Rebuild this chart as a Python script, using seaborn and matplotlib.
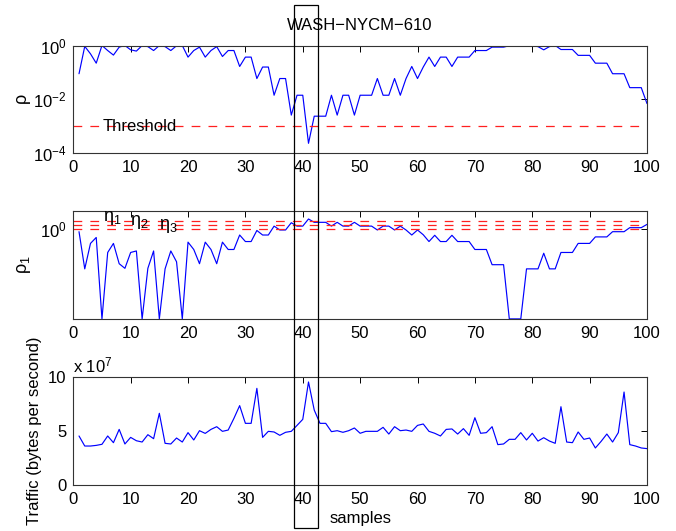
import numpy as np
import pandas as pd
import matplotlib
matplotlib.use("Agg")
import matplotlib.pyplot as plt
import matplotlib.ticker as mticker
import matplotlib.transforms as mtransforms
from matplotlib.patches import Rectangle
import seaborn as sns

# ---------------- data ----------------
samples = list(range(1, 101))

rho = [0.089, 0.93, 0.49, 0.22, 1.0, 0.65, 0.44, 0.87, 1.0, 0.69,
       0.62, 1.0, 0.91, 0.65, 1.0, 0.91, 0.65, 0.98, 1.0, 0.37,
       0.65, 0.87, 0.37, 0.65, 0.91, 0.39, 0.65, 0.65, 0.166, 0.37,
       0.37, 0.059, 0.158, 0.158, 0.0141, 0.059, 0.059, 0.00257, 0.0141, 0.0141,
       0.000229, 0.00234, 0.00234, 0.00234, 0.0141, 0.00257, 0.0141, 0.0141, 0.00257, 0.0141,
       0.0141, 0.0141, 0.059, 0.0141, 0.0141, 0.059, 0.0141, 0.059, 0.166, 0.059,
       0.158, 0.37, 0.166, 0.37, 0.37, 0.166, 0.37, 0.37, 0.37, 0.65,
       0.65, 0.65, 0.87, 0.87, 0.87, 0.98, 1.0, 1.0, 1.0, 0.98,
       0.91, 0.69, 0.91, 1.0, 0.71, 0.71, 0.71, 0.43, 0.43, 0.43,
       0.22, 0.22, 0.22, 0.089, 0.089, 0.089, 0.027, 0.027, 0.027, 0.0069]

rho1 = [0.95, 0.43, 0.74, 0.84, 0.148, 0.61, 0.74, 0.48, 0.435, 0.61,
        0.63, 0.148, 0.435, 0.63, 0.148, 0.43, 0.63, 0.50, 0.148, 0.76,
        0.65, 0.48, 0.76, 0.65, 0.48, 0.76, 0.65, 0.65, 0.885, 0.77,
        0.77, 0.975, 0.885, 0.885, 1.07, 0.985, 0.985, 1.15, 1.07, 1.07,
        1.245, 1.16, 1.16, 1.16, 1.07, 1.16, 1.07, 1.07, 1.16, 1.07,
        1.07, 1.07, 0.985, 1.07, 1.07, 0.985, 1.07, 0.985, 0.885, 0.985,
        0.89, 0.77, 0.88, 0.77, 0.77, 0.88, 0.77, 0.77, 0.77, 0.65,
        0.65, 0.65, 0.47, 0.47, 0.47, 0.148, 0.148, 0.148, 0.43, 0.43,
        0.43, 0.60, 0.43, 0.43, 0.61, 0.61, 0.61, 0.74, 0.74, 0.74,
        0.85, 0.85, 0.85, 0.95, 0.95, 0.95, 1.035, 1.035, 1.035, 1.11]

traffic_e7 = [4.54, 3.61, 3.61, 3.67, 3.77, 4.54, 3.92, 5.15, 3.80, 4.41,
              4.10, 3.98, 4.66, 4.29, 6.64, 3.86, 3.80, 4.35, 3.98, 4.85,
              4.17, 5.03, 4.78, 5.15, 5.40, 4.97, 5.09, 6.17, 7.35, 5.71,
              5.71, 8.95, 4.41, 4.97, 4.91, 4.60, 4.88, 4.97, 5.52, 6.08,
              9.54, 6.94, 5.71, 5.71, 4.94, 5.03, 4.88, 5.03, 5.28, 4.79,
              4.97, 4.97, 4.97, 5.34, 4.72, 5.40, 5.03, 5.09, 4.97, 5.52,
              5.65, 4.97, 4.79, 4.54, 5.15, 5.19, 4.72, 5.22, 4.60, 6.23,
              4.79, 4.85, 5.40, 3.74, 3.80, 4.23, 4.23, 4.85, 4.17, 4.79,
              4.07, 4.38, 4.07, 3.86, 7.25, 3.98, 3.92, 4.91, 4.23, 4.35,
              3.43, 4.04, 4.72, 3.98, 4.85, 8.61, 3.74, 3.61, 3.43, 3.37]

threshold = 1e-3
eta_values = [1.2, 1.1, 1.0]
eta_labels = [r"$\eta_1$", r"$\eta_2$", r"$\eta_3$"]
eta_label_x = [5.1, 9.9, 15.0]

highlight_start, highlight_end = 38.4, 42.6

title = "WASH\u2212NYCM\u2212610"
xticks = list(range(0, 101, 10))

df = pd.DataFrame({"sample": samples, "rho": rho, "rho1": rho1,
                   "traffic": [v * 1e7 for v in traffic_e7]})

# ---------------- style ----------------
sns.set_style("white")
plt.rcParams["font.family"] = ["Liberation Sans", "DejaVu Sans"]
plt.rcParams["mathtext.fontset"] = "custom"
plt.rcParams["mathtext.rm"] = "Liberation Sans"
plt.rcParams["mathtext.it"] = "Liberation Sans"
plt.rcParams["mathtext.default"] = "regular"
plt.rcParams["font.size"] = 12
plt.rcParams["axes.unicode_minus"] = True
plt.rcParams["text.color"] = "black"
plt.rcParams["axes.labelcolor"] = "black"
plt.rcParams["xtick.color"] = "black"
plt.rcParams["ytick.color"] = "black"

fig = plt.figure(figsize=(6.76, 5.31), dpi=100)
left, width = 0.1084, 0.8487
ax1 = fig.add_axes([left, 0.7119, width, 0.2024])
ax2 = fig.add_axes([left, 0.3992, width, 0.2034])
ax3 = fig.add_axes([left, 0.0866, width, 0.2034])

line_kw = dict(color="#0000ff", linewidth=0.85)

sns.lineplot(data=df, x="sample", y="rho", ax=ax1, **line_kw)
sns.lineplot(data=df, x="sample", y="rho1", ax=ax2, **line_kw)
sns.lineplot(data=df, x="sample", y="traffic", ax=ax3, **line_kw)

red = "#ff2020"
dash = (0, (7, 6.5))

for ax in (ax1, ax2, ax3):
    ax.set_xlim(0, 100)
    ax.set_xticks(xticks)
    ax.tick_params(direction="in", length=4, width=0.7, top=True, right=True,
                   labelsize=12, pad=5, colors="black")
    ax.tick_params(which="minor", length=0)
    for s in ax.spines.values():
        s.set_color("#333333")
        s.set_linewidth(0.8)
    ax.set_xlabel("")

# top panel
ax1.set_yscale("log")
ax1.set_ylim(1e-4, 1.0)
ax1.yaxis.set_major_locator(mticker.FixedLocator([1e-4, 1e-2, 1.0]))
ax1.yaxis.set_minor_locator(mticker.NullLocator())
ax1.axhline(threshold, color=red, linewidth=0.9, linestyle=dash)
ax1.text(5.2, threshold, "Threshold", ha="left", va="center", fontsize=12)
ax1.set_ylabel(r"$\rho$", fontsize=13, labelpad=0)
ax1.set_title(title, fontsize=12, pad=11, color="black")

# middle panel
ax2.set_yscale("log")
ax2.set_ylim(0.1476, 1.476)
ax2.yaxis.set_major_locator(mticker.FixedLocator([1.0]))
ax2.yaxis.set_minor_locator(mticker.NullLocator())
ax2.yaxis.set_major_formatter(mticker.LogFormatterSciNotation())
for v, lab, lx in zip(eta_values, eta_labels, eta_label_x):
    ax2.axhline(v, color=red, linewidth=0.9, linestyle=dash)
    ax2.text(lx, v, lab, ha="left", va="baseline", fontsize=13)
ax2.set_ylabel(r"$\rho_1$", fontsize=13, labelpad=5)

# bottom panel
ax3.set_ylim(0, 1e8)
ax3.set_yticks([0, 5e7, 1e8])
ax3.yaxis.set_major_formatter(mticker.FuncFormatter(lambda v, p: f"{v/1e7:g}"))
ax3.text(0.0, 1.015, r"x 10$^7$", transform=ax3.transAxes, ha="left", va="bottom",
         fontsize=12)
ax3.set_ylabel("Traffic (bytes per second)", fontsize=12)
ax3.set_xlabel("samples", fontsize=12, labelpad=3)

# highlight rectangle spanning all panels
trans = mtransforms.blended_transform_factory(ax3.transData, fig.transFigure)
rect = Rectangle((highlight_start, 0.0056), highlight_end - highlight_start, 0.985,
                 transform=trans, fill=False, edgecolor="black", linewidth=0.9,
                 clip_on=False)
fig.add_artist(rect)

fig.savefig("out.png", dpi=100)
